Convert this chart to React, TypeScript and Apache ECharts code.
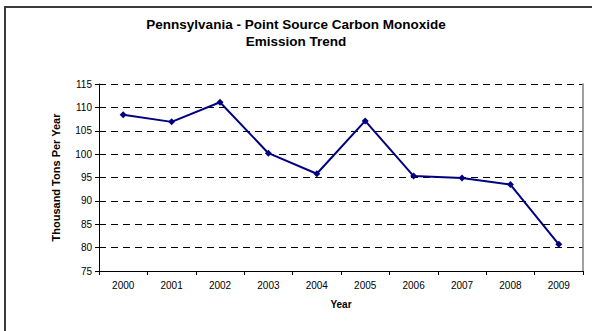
import React, { useEffect, useRef } from "react";
import * as echarts from "echarts";

const years = ["2000", "2001", "2002", "2003", "2004", "2005", "2006", "2007", "2008", "2009"];
const emissions = [108.4, 106.9, 111.1, 100.2, 95.8, 107.1, 95.3, 94.9, 93.5, 80.7];
const titleText = "Pennsylvania - Point Source Carbon Monoxide\nEmission Trend";
const yAxisName = "Thousand Tons Per Year";
const xAxisName = "Year";

export default function App() {
  const ref = useRef<HTMLDivElement>(null);
  useEffect(() => {
    if (!ref.current) return;
    const chart = echarts.init(ref.current, null, { renderer: "svg" });
    const font = "Liberation Sans, Arial, sans-serif";
    chart.setOption({
      animation: false,
      backgroundColor: "#ffffff",
      textStyle: { fontFamily: font },
      title: {
        text: titleText,
        left: "center",
        top: 11,
        textStyle: { fontSize: 13.5, fontWeight: "bold", color: "#000", lineHeight: 17, fontFamily: font },
      },
      graphic: [
        {
          type: "rect",
          shape: { x: 5, y: 7, width: 640, height: 400 },
          style: { fill: "none", stroke: "#3a3a3a", lineWidth: 2 },
          silent: true,
        },
      ],
      grid: { left: 99, top: 84, right: 9, bottom: 60, containLabel: false },
      xAxis: {
        type: "category",
        data: years,
        boundaryGap: true,
        name: xAxisName,
        nameLocation: "middle",
        nameGap: 28,
        nameTextStyle: { fontSize: 10, fontWeight: "bold", color: "#000", fontFamily: font },
        axisLine: { show: true, lineStyle: { color: "#000", width: 1 } },
        axisTick: { show: true, alignWithLabel: false, interval: 0, length: 4, lineStyle: { color: "#000" } },
        axisLabel: { fontSize: 10, color: "#000", margin: 9, interval: 0, fontFamily: font },
        splitLine: { show: false },
      },
      yAxis: [
        {
          type: "value",
          min: 75,
          max: 115,
          interval: 5,
          name: yAxisName,
          nameLocation: "middle",
          nameGap: 38,
          nameTextStyle: { fontSize: 11, fontWeight: "bold", color: "#000", fontFamily: font },
          axisLine: { show: true, lineStyle: { color: "#000", width: 1 } },
          axisTick: { show: true, length: 4, lineStyle: { color: "#000" } },
          axisLabel: { fontSize: 10, color: "#000", margin: 7, fontFamily: font },
          splitLine: { show: true, lineStyle: { color: "#000", type: [7, 5], width: 1 } },
        },
        {
          type: "value",
          min: 75,
          max: 115,
          interval: 5,
          position: "right",
          axisLine: { show: true, lineStyle: { color: "#808080", width: 1.5 } },
          axisTick: { show: false },
          axisLabel: { show: false },
          splitLine: { show: false },
        },
      ],
      series: [
        {
          type: "line",
          data: emissions,
          yAxisIndex: 0,
          symbol: "diamond",
          symbolSize: 7,
          itemStyle: { color: "#000080" },
          lineStyle: { color: "#000080", width: 2 },
        },
      ],
    });
    return () => chart.dispose();
  }, []);
  return (
    <div
      ref={ref}
      style={{ position: "fixed", left: 0, top: 0, width: 592, height: 331 }}
    />
  );
}
